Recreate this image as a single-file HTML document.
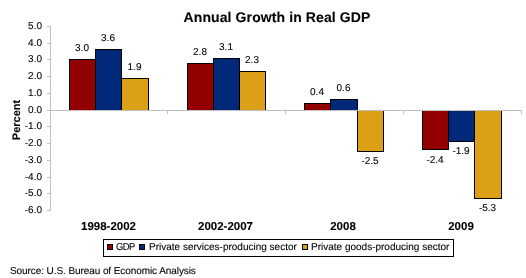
<!DOCTYPE html>
<html><head><meta charset="utf-8"><style>
html,body{margin:0;padding:0;background:#fff;}
body{width:526px;height:278px;position:relative;overflow:hidden;font-family:"Liberation Sans", sans-serif;color:#000;-webkit-font-smoothing:antialiased;will-change:transform;text-rendering:geometricPrecision;-webkit-text-stroke:0.1px #000;}
</style></head><body>
<div style="position:absolute;left:127.0px;top:10px;width:300px;text-align:center;font-size:14px;line-height:14px;font-weight:bold;white-space:nowrap;letter-spacing:0.1px;">Annual Growth in Real GDP</div>
<div style="position:absolute;left:18px;top:120px;width:0;height:0;"><div style="position:absolute;left:-30px;top:-6px;width:60px;text-align:center;font-size:11px;line-height:11px;font-weight:bold;white-space:nowrap;transform:rotate(-90deg);transform-origin:30px 6px;">Percent</div></div>
<div style="position:absolute;left:50px;top:26px;width:1px;height:185px;background:#c0c0c0;"></div>
<div style="position:absolute;left:47px;top:26px;width:3px;height:1px;background:#c0c0c0;"></div>
<div style="position:absolute;left:47px;top:43px;width:3px;height:1px;background:#c0c0c0;"></div>
<div style="position:absolute;left:47px;top:59px;width:3px;height:1px;background:#c0c0c0;"></div>
<div style="position:absolute;left:47px;top:76px;width:3px;height:1px;background:#c0c0c0;"></div>
<div style="position:absolute;left:47px;top:93px;width:3px;height:1px;background:#c0c0c0;"></div>
<div style="position:absolute;left:47px;top:110px;width:3px;height:1px;background:#c0c0c0;"></div>
<div style="position:absolute;left:47px;top:126px;width:3px;height:1px;background:#c0c0c0;"></div>
<div style="position:absolute;left:47px;top:143px;width:3px;height:1px;background:#c0c0c0;"></div>
<div style="position:absolute;left:47px;top:160px;width:3px;height:1px;background:#c0c0c0;"></div>
<div style="position:absolute;left:47px;top:177px;width:3px;height:1px;background:#c0c0c0;"></div>
<div style="position:absolute;left:47px;top:193px;width:3px;height:1px;background:#c0c0c0;"></div>
<div style="position:absolute;left:47px;top:210px;width:3px;height:1px;background:#c0c0c0;"></div>
<div style="position:absolute;left:2px;top:22px;width:40px;text-align:right;font-size:10px;line-height:10px;font-weight:normal;white-space:nowrap;">5.0</div>
<div style="position:absolute;left:2px;top:39px;width:40px;text-align:right;font-size:10px;line-height:10px;font-weight:normal;white-space:nowrap;">4.0</div>
<div style="position:absolute;left:2px;top:55px;width:40px;text-align:right;font-size:10px;line-height:10px;font-weight:normal;white-space:nowrap;">3.0</div>
<div style="position:absolute;left:2px;top:72px;width:40px;text-align:right;font-size:10px;line-height:10px;font-weight:normal;white-space:nowrap;">2.0</div>
<div style="position:absolute;left:2px;top:89px;width:40px;text-align:right;font-size:10px;line-height:10px;font-weight:normal;white-space:nowrap;">1.0</div>
<div style="position:absolute;left:2px;top:106px;width:40px;text-align:right;font-size:10px;line-height:10px;font-weight:normal;white-space:nowrap;">0.0</div>
<div style="position:absolute;left:2px;top:122px;width:40px;text-align:right;font-size:10px;line-height:10px;font-weight:normal;white-space:nowrap;">-1.0</div>
<div style="position:absolute;left:2px;top:139px;width:40px;text-align:right;font-size:10px;line-height:10px;font-weight:normal;white-space:nowrap;">-2.0</div>
<div style="position:absolute;left:2px;top:156px;width:40px;text-align:right;font-size:10px;line-height:10px;font-weight:normal;white-space:nowrap;">-3.0</div>
<div style="position:absolute;left:2px;top:173px;width:40px;text-align:right;font-size:10px;line-height:10px;font-weight:normal;white-space:nowrap;">-4.0</div>
<div style="position:absolute;left:2px;top:189px;width:40px;text-align:right;font-size:10px;line-height:10px;font-weight:normal;white-space:nowrap;">-5.0</div>
<div style="position:absolute;left:2px;top:206px;width:40px;text-align:right;font-size:10px;line-height:10px;font-weight:normal;white-space:nowrap;">-6.0</div>
<div style="position:absolute;left:47px;top:110px;width:475px;height:1px;background:#c0c0c0;"></div>
<div style="position:absolute;left:167px;top:110px;width:1px;height:4px;background:#c0c0c0;"></div>
<div style="position:absolute;left:285px;top:110px;width:1px;height:4px;background:#c0c0c0;"></div>
<div style="position:absolute;left:403px;top:110px;width:1px;height:4px;background:#c0c0c0;"></div>
<div style="position:absolute;left:521px;top:110px;width:1px;height:4px;background:#c0c0c0;"></div>
<div style="position:absolute;left:69px;top:59px;width:25px;height:50px;background:#920000;border:1px solid #000;border-bottom:0;"></div>
<div style="position:absolute;left:95px;top:49px;width:25px;height:60px;background:#00297a;border:1px solid #000;border-bottom:0;"></div>
<div style="position:absolute;left:121px;top:78px;width:26px;height:31px;background:#dca017;border:1px solid #000;border-bottom:0;"></div>
<div style="position:absolute;left:187px;top:63px;width:25px;height:46px;background:#920000;border:1px solid #000;border-bottom:0;"></div>
<div style="position:absolute;left:213px;top:58px;width:25px;height:51px;background:#00297a;border:1px solid #000;border-bottom:0;"></div>
<div style="position:absolute;left:239px;top:71px;width:25px;height:38px;background:#dca017;border:1px solid #000;border-bottom:0;"></div>
<div style="position:absolute;left:304px;top:103px;width:25px;height:6px;background:#920000;border:1px solid #000;border-bottom:0;"></div>
<div style="position:absolute;left:330px;top:99px;width:26px;height:10px;background:#00297a;border:1px solid #000;border-bottom:0;"></div>
<div style="position:absolute;left:357px;top:111px;width:25px;height:40px;background:#dca017;border:1px solid #000;border-top:0;"></div>
<div style="position:absolute;left:422px;top:111px;width:25px;height:38px;background:#920000;border:1px solid #000;border-top:0;"></div>
<div style="position:absolute;left:448px;top:111px;width:25px;height:30px;background:#00297a;border:1px solid #000;border-top:0;"></div>
<div style="position:absolute;left:474px;top:111px;width:26px;height:87px;background:#dca017;border:1px solid #000;border-top:0;"></div>
<div style="position:absolute;left:62.0px;top:44px;width:40px;text-align:center;font-size:10px;line-height:10px;font-weight:normal;white-space:nowrap;">3.0</div>
<div style="position:absolute;left:88.0px;top:34px;width:40px;text-align:center;font-size:10px;line-height:10px;font-weight:normal;white-space:nowrap;">3.6</div>
<div style="position:absolute;left:114.5px;top:63px;width:40px;text-align:center;font-size:10px;line-height:10px;font-weight:normal;white-space:nowrap;">1.9</div>
<div style="position:absolute;left:180.0px;top:48px;width:40px;text-align:center;font-size:10px;line-height:10px;font-weight:normal;white-space:nowrap;">2.8</div>
<div style="position:absolute;left:206.0px;top:43px;width:40px;text-align:center;font-size:10px;line-height:10px;font-weight:normal;white-space:nowrap;">3.1</div>
<div style="position:absolute;left:232.0px;top:56px;width:40px;text-align:center;font-size:10px;line-height:10px;font-weight:normal;white-space:nowrap;">2.3</div>
<div style="position:absolute;left:297.0px;top:88px;width:40px;text-align:center;font-size:10px;line-height:10px;font-weight:normal;white-space:nowrap;">0.4</div>
<div style="position:absolute;left:323.5px;top:84px;width:40px;text-align:center;font-size:10px;line-height:10px;font-weight:normal;white-space:nowrap;">0.6</div>
<div style="position:absolute;left:350.0px;top:157px;width:40px;text-align:center;font-size:10px;line-height:10px;font-weight:normal;white-space:nowrap;">-2.5</div>
<div style="position:absolute;left:415.0px;top:156px;width:40px;text-align:center;font-size:10px;line-height:10px;font-weight:normal;white-space:nowrap;">-2.4</div>
<div style="position:absolute;left:441.0px;top:147px;width:40px;text-align:center;font-size:10px;line-height:10px;font-weight:normal;white-space:nowrap;">-1.9</div>
<div style="position:absolute;left:467.5px;top:204px;width:40px;text-align:center;font-size:10px;line-height:10px;font-weight:normal;white-space:nowrap;">-5.3</div>
<div style="position:absolute;left:58.5px;top:222px;width:100px;text-align:center;font-size:11.5px;line-height:11.5px;font-weight:bold;white-space:nowrap;">1998-2002</div>
<div style="position:absolute;left:175.5px;top:222px;width:100px;text-align:center;font-size:11.5px;line-height:11.5px;font-weight:bold;white-space:nowrap;">2002-2007</div>
<div style="position:absolute;left:293.0px;top:222px;width:100px;text-align:center;font-size:11.5px;line-height:11.5px;font-weight:bold;white-space:nowrap;">2008</div>
<div style="position:absolute;left:411.0px;top:222px;width:100px;text-align:center;font-size:11.5px;line-height:11.5px;font-weight:bold;white-space:nowrap;">2009</div>
<div style="position:absolute;left:103px;top:239px;width:349px;height:16px;border:1px solid #000;"></div>
<div style="position:absolute;left:107px;top:244px;width:4px;height:4px;background:#920000;border:1px solid #000;"></div>
<div style="position:absolute;left:139px;top:244px;width:4px;height:4px;background:#00297a;border:1px solid #000;"></div>
<div style="position:absolute;left:302px;top:244px;width:4px;height:4px;background:#dca017;border:1px solid #000;"></div>
<div style="position:absolute;left:116px;top:243px;font-size:10px;line-height:10px;font-weight:normal;white-space:nowrap;letter-spacing:-0.6px;transform:scaleX(0.94);transform-origin:0 0;">GDP</div>
<div style="position:absolute;left:149px;top:243px;font-size:10px;line-height:10px;font-weight:normal;white-space:nowrap;">Private services-producing sector</div>
<div style="position:absolute;left:311px;top:243px;font-size:10px;line-height:10px;font-weight:normal;white-space:nowrap;">Private goods-producing sector</div>
<div style="position:absolute;left:10px;top:267px;font-size:10px;line-height:10px;font-weight:normal;white-space:nowrap;letter-spacing:-0.08px;">Source: U.S. Bureau of Economic Analysis</div>
</body></html>
